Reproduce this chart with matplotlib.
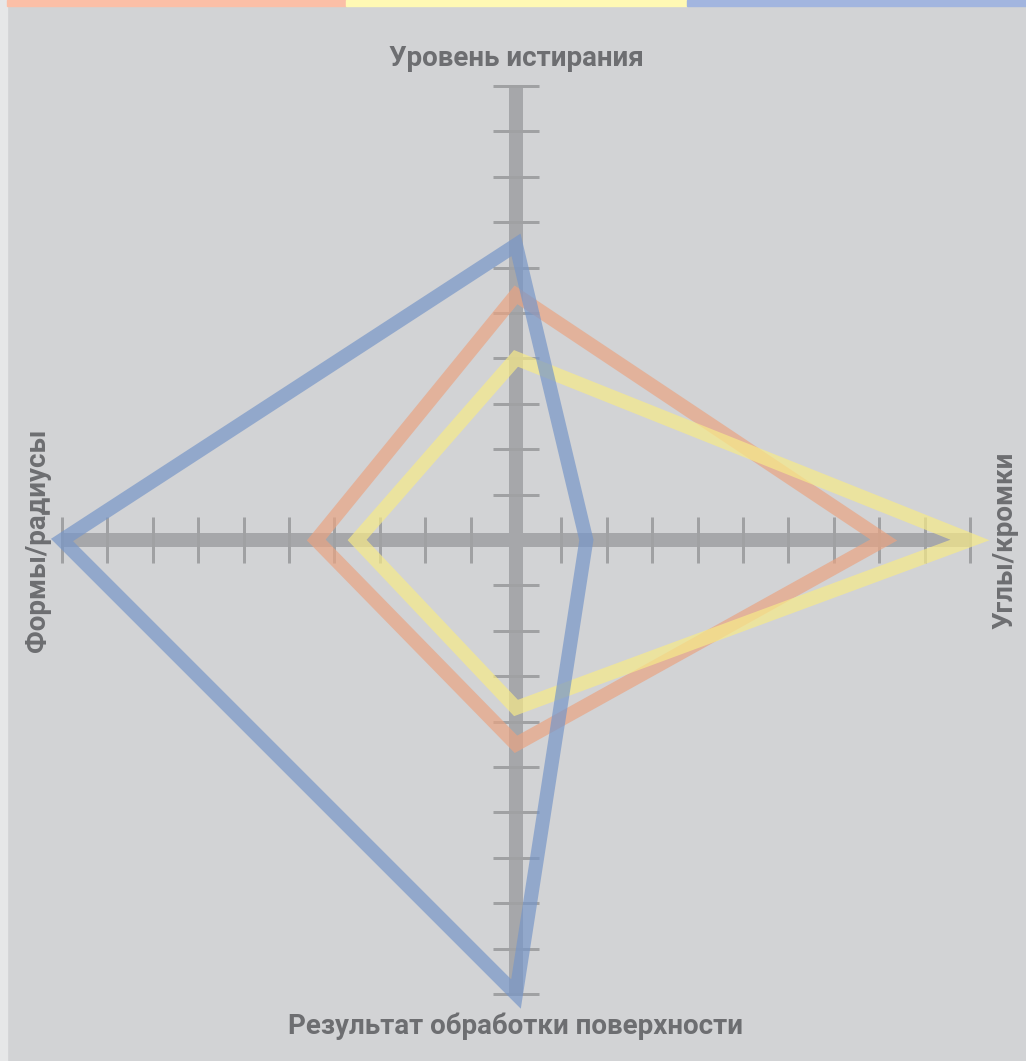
import matplotlib
matplotlib.use("Agg")
import matplotlib.pyplot as plt
from matplotlib.patches import Polygon, Rectangle

# ---- data ----
axes_labels = ["Уровень истирания", "Углы/кромки", "Результат обработки поверхности", "Формы/радиусы"]
salmon_vals = [5.4, 8.1, 4.5, 4.4]   # top, right, bottom, left
yellow_vals = [4.0, 10.0, 3.7, 3.5]
blue_vals = [6.5, 1.55, 10.0, 10.0]
series_colors = ["#e9a483", "#f7ea89", "#7796c8"]
strip_colors = ["#fbbfa7", "#fff9b4", "#a2b5df"]
max_val = 10

W, H = 1026, 1061
DPI = 100
cx, cy = 516, 540          # centre in pixels
unit = 45.4                # pixels per unit

fig = plt.figure(figsize=(W / DPI, H / DPI), dpi=DPI)
fig.patch.set_facecolor("#d2d3d5")

# decorative strips (figure coords)
fig.patches.append(Rectangle((0, 0), 7 / W, 1, transform=fig.transFigure, color="#e6e7e8", zorder=0))
edges = [7, 346, 687, 1026]
for i, c in enumerate(strip_colors):
    fig.patches.append(Rectangle((edges[i] / W, 1 - 6 / H), (edges[i + 1] - edges[i]) / W, 6 / H,
                                 transform=fig.transFigure, color=c, zorder=1))

ax = fig.add_axes([0, 0, 1, 1])
ax.set_xlim(-cx / unit, (W - cx) / unit)
ax.set_ylim(-(H - cy) / unit, cy / unit)
ax.axis("off")

axis_grey = "#a6a7aa"
px = 0.72  # points per pixel at 100 dpi
# main axes bars
ax.plot([0, 0], [-max_val, max_val], color=axis_grey, lw=14 * px, solid_capstyle="butt", zorder=2)
ax.plot([-max_val, max_val], [0, 0], color=axis_grey, lw=14 * px, solid_capstyle="butt", zorder=2)
# ticks
for k in range(1, max_val + 1):
    for s in (-1, 1):
        ax.plot([-0.5, 0.5], [s * k, s * k], color="#a0a1a3", lw=3 * px, solid_capstyle="butt", zorder=2)
        ax.plot([s * k, s * k], [-0.5, 0.5], color="#a0a1a3", lw=3 * px, solid_capstyle="butt", zorder=2)

def verts(v):
    t, r, b, l = v
    return [(0, t), (r, 0), (0, -b), (-l, 0)]

for vals, col in zip([salmon_vals, yellow_vals, blue_vals], series_colors):
    p = Polygon(verts(vals), closed=True, fill=False, edgecolor=col, lw=14 * px,
                alpha=0.7, joinstyle="miter", zorder=3)
    ax.add_patch(p)

txt = dict(color="#6d6e71", fontsize=20, fontweight="bold",
           family=["Roboto", "DejaVu Sans"])
ax.text(0, (cy - 58) / unit, axes_labels[0], ha="center", va="center", **txt)
ax.text((1005 - cx) / unit, 0, axes_labels[1], ha="center", va="center", rotation=90, **txt)
ax.text(0, -(1026 - cy) / unit, axes_labels[2], ha="center", va="center", **txt)
ax.text((37 - cx) / unit, 0, axes_labels[3], ha="center", va="center", rotation=90, **txt)

fig.savefig("out.png", dpi=DPI, facecolor=fig.get_facecolor())
